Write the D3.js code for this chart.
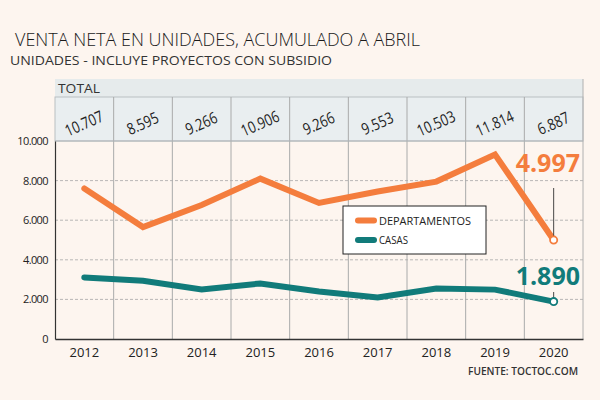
<!DOCTYPE html>
<html><head><meta charset="utf-8">
<script src="https://cdn.jsdelivr.net/npm/d3@7"></script>
<style>
html,body{margin:0;padding:0;background:#fdf5ef;}
svg{display:block;}
text{font-family:"Open Sans","DejaVu Sans",sans-serif;}
</style></head>
<body>
<svg id="c" width="600" height="400"></svg>
<script>
const years = ["2012","2013","2014","2015","2016","2017","2018","2019","2020"];
const totals = ["10.707","8.595","9.266","10.906","9.266","9.553","10.503","11.814","6.887"];
const departamentos = [7600,5650,6770,8100,6870,7450,7950,9320,4997];
const casas = [3107,2945,2496,2806,2396,2103,2553,2494,1890];
const yTicks = [0,2000,4000,6000,8000,10000];
const seriesNames = ["DEPARTAMENTOS","CASAS"];

const orange = "#f47d3d", teal = "#117b7a";
const svg = d3.select("#c");
const L = 55, R = 583, T = 141, B = 339;
const x = d3.scaleBand().domain(years).range([L,R]);
const y = d3.scaleLinear().domain([0,10000]).range([B,T]);
const fmt = v => d3.format(",")(v).replace(/,/g,".");

svg.append("rect").attr("width",600).attr("height",400).attr("fill","#fdf5ef");

// title
svg.append("text").attr("x",15).attr("y",46).attr("font-size",18)
  .attr("font-family","Roboto,'Open Sans',sans-serif").attr("font-weight",300)
  .attr("textLength",405).attr("lengthAdjust","spacingAndGlyphs")
  .attr("fill","#1a1a1a").text("VENTA NETA EN UNIDADES, ACUMULADO A ABRIL");
svg.append("text").attr("x",10).attr("y",65).attr("font-size",12.5)
  .attr("textLength",322).attr("lengthAdjust","spacingAndGlyphs")
  .attr("fill","#333").text("UNIDADES - INCLUYE PROYECTOS CON SUBSIDIO");

// table
svg.append("rect").attr("x",L).attr("y",79).attr("width",R-L).attr("height",18).attr("fill","#e6ebec");
svg.append("rect").attr("x",L).attr("y",97).attr("width",R-L).attr("height",T-97).attr("fill","#e9eef0")
  .attr("stroke","#b9bfc2").attr("stroke-width",1);
svg.append("text").attr("x",L+3).attr("y",93).attr("font-size",13).attr("fill","#333")
  .attr("textLength",42).attr("lengthAdjust","spacingAndGlyphs").text("TOTAL");
svg.selectAll("text.tot").data(totals).enter().append("text").attr("class","tot")
  .attr("x",(d,i)=>x(years[i])+x.bandwidth()/2).attr("y",129)
  .attr("transform",(d,i)=>`rotate(-24 ${x(years[i])+x.bandwidth()/2} 124)`)
  .attr("text-anchor","middle")
  .attr("font-size",16).attr("fill","#222")
  .attr("textLength",d=>d.length>5?40:33).attr("lengthAdjust","spacingAndGlyphs").text(d=>d);

// horizontal dashed grid
svg.selectAll("line.hg").data(yTicks.filter(d=>d>0 && d<10000)).enter().append("line")
  .attr("x1",L).attr("x2",R).attr("y1",d=>y(d)).attr("y2",d=>y(d))
  .attr("stroke","#a7a7a7").attr("stroke-width",0.8).attr("stroke-dasharray","3,2");
// vertical grid
svg.selectAll("line.vg").data(years.slice(1)).enter().append("line")
  .attr("x1",d=>x(d)).attr("x2",d=>x(d)).attr("y1",97).attr("y2",B)
  .attr("stroke","#a9aaaa").attr("stroke-width",1);
svg.append("line").attr("x1",R).attr("x2",R).attr("y1",79).attr("y2",B).attr("stroke","#b0b0b0");
svg.append("line").attr("x1",L).attr("x2",R).attr("y1",T).attr("y2",T).attr("stroke","#b0b5b8");

// axes
const ya = svg.append("g").attr("transform",`translate(${L},0)`)
  .call(d3.axisLeft(y).tickValues(yTicks).tickSize(0).tickPadding(7).tickFormat(fmt));
ya.select(".domain").attr("stroke","#333").attr("stroke-width",1.2);
ya.selectAll("text").attr("font-size",11).attr("letter-spacing",-0.6).attr("fill","#222")
  .attr("font-family","'Open Sans',sans-serif");
const xa = svg.append("g").attr("transform",`translate(0,${B})`)
  .call(d3.axisBottom(x).tickSize(0).tickPadding(9));
xa.select(".domain").attr("stroke","#333").attr("stroke-width",1.5);
xa.selectAll("text").attr("font-size",13).attr("fill","#222").attr("font-family","'Open Sans',sans-serif");

// lines
const line = d3.line().x((d,i)=>x(years[i])+x.bandwidth()/2).y(d=>y(d));
[[departamentos,orange],[casas,teal]].forEach(([s,c])=>{
  svg.append("path").datum(s).attr("d",line).attr("fill","none").attr("stroke",c)
    .attr("stroke-width",6).attr("stroke-linejoin","miter").attr("stroke-linecap","round");
});

// end labels
const xl = x("2020")+x.bandwidth()/2;
const ends = [
  {v:departamentos[8],c:orange,ty:172,l1:188},
  {v:casas[8],c:teal,ty:285,l1:292}
];
ends.forEach(e=>{
  svg.append("line").attr("x1",xl).attr("x2",xl).attr("y1",e.l1).attr("y2",y(e.v)).attr("stroke","#333").attr("stroke-width",0.9);
  svg.append("circle").attr("cx",xl).attr("cy",y(e.v)).attr("r",3.6).attr("fill","#fff")
    .attr("stroke",e.c).attr("stroke-width",1.8);
  svg.append("text").attr("x",580).attr("y",e.ty).attr("text-anchor","end")
    .attr("font-size",25).attr("font-weight","bold").attr("fill",e.c)
    .attr("font-family","'Open Sans',sans-serif").text(fmt(e.v));
});

// legend
const lg = svg.append("g");
lg.append("rect").attr("x",343).attr("y",206).attr("width",143).attr("height",48)
  .attr("fill","#fff").attr("stroke","#222").attr("stroke-width",1);
[[orange,220.5],[teal,240]].forEach(([c,yy],i)=>{
  lg.append("line").attr("x1",358).attr("x2",374).attr("y1",yy).attr("y2",yy)
    .attr("stroke",c).attr("stroke-width",6).attr("stroke-linecap","round");
  lg.append("text").attr("x",379).attr("y",yy+4).attr("font-size",11.5)
    .attr("textLength",i===0?92:29).attr("lengthAdjust","spacingAndGlyphs")
    .attr("fill","#222").text(seriesNames[i]);
});

svg.append("text").attr("x",578).attr("y",375).attr("text-anchor","end").attr("font-size",11)
  .attr("font-weight","600").attr("fill","#333").attr("textLength",110).attr("lengthAdjust","spacingAndGlyphs")
  .text("FUENTE: TOCTOC.COM");
</script>
</body></html>
